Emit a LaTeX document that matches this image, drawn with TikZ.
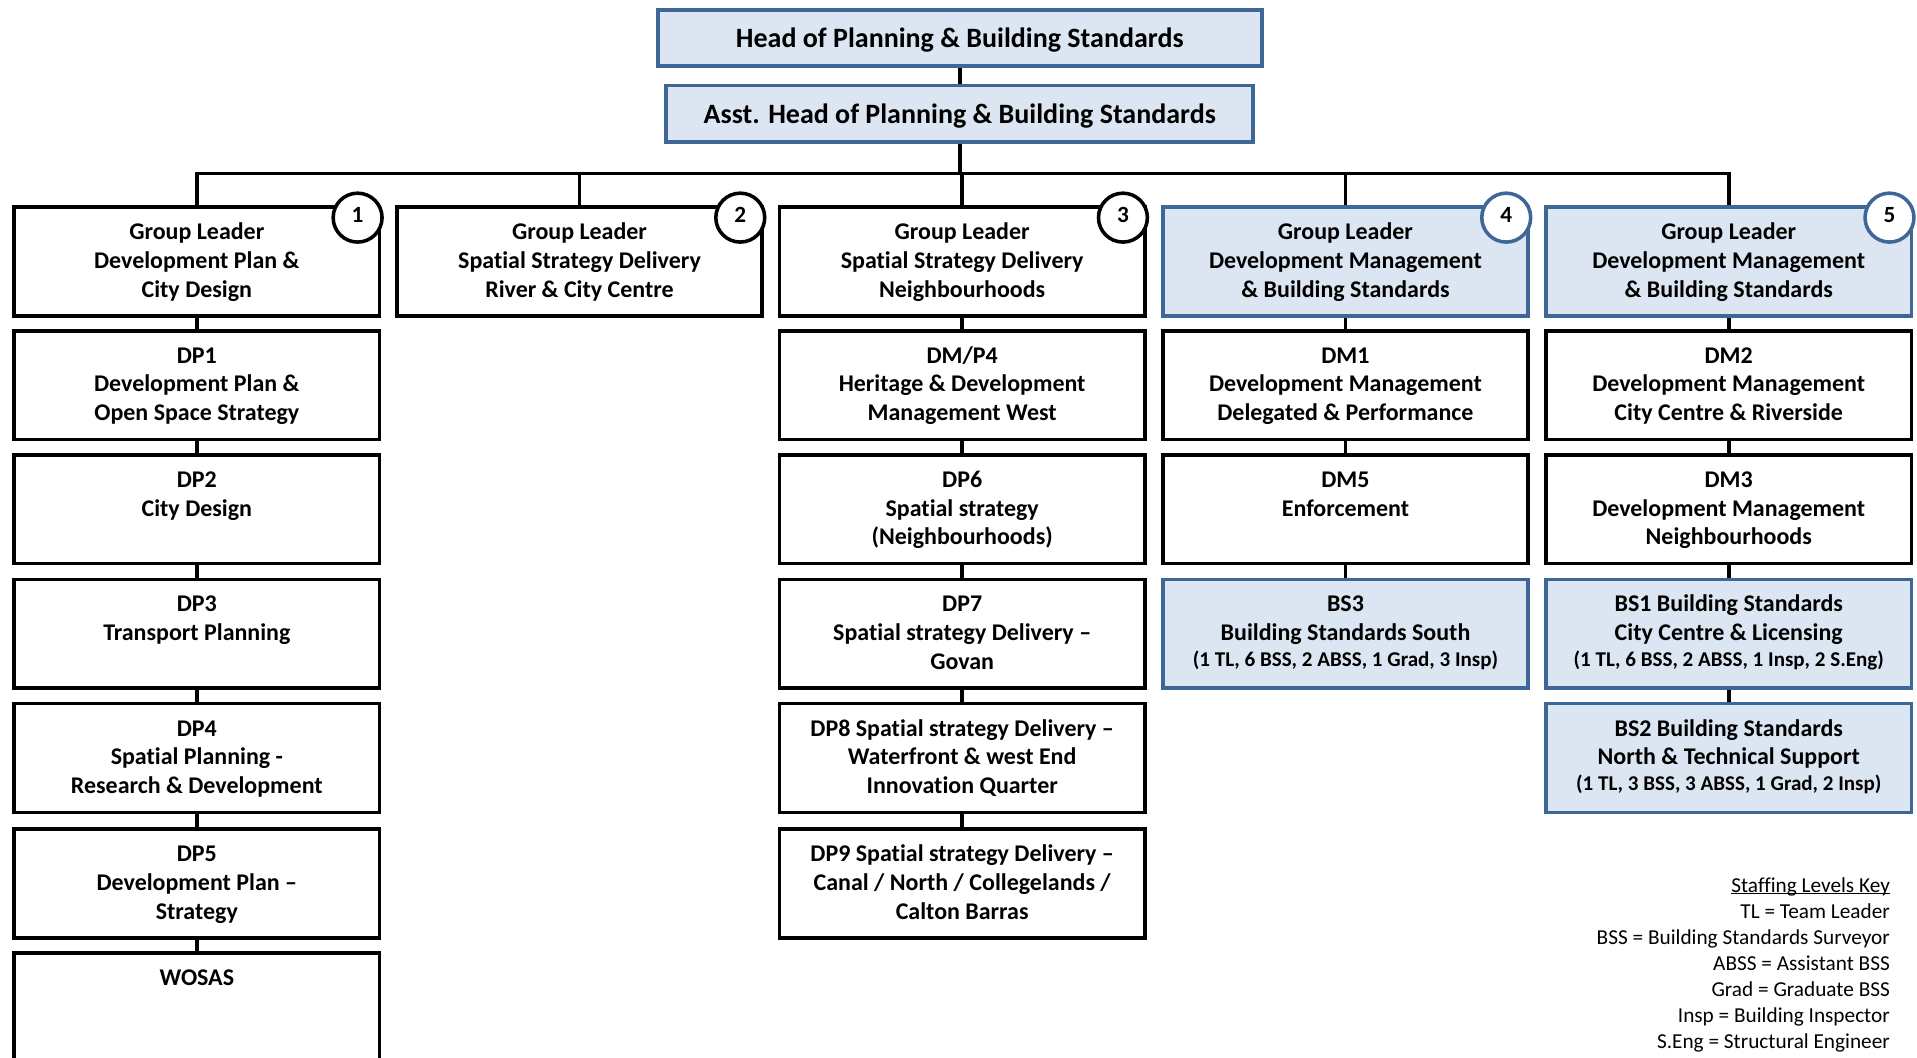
\documentclass[tikz,border=0pt]{standalone}
\usepackage{fontspec}
\setmainfont{Carlito}[Ligatures={TeX,NoCommon}]
\definecolor{bfill}{HTML}{DCE6F2}
\definecolor{bline}{HTML}{3E6697}
\pgfdeclarelayer{background}
\pgfsetlayers{background,main}
\tikzset{
  orgbox/.style={rectangle, draw=black, line width=3pt, fill=white, minimum width=299pt, minimum height=89pt, inner sep=0pt, anchor=north},
  bluebox/.style={orgbox, draw=bline, fill=bfill},
  conn/.style={draw=black, line width=2.9pt},
  badge/.style={circle, draw=black, fill=white, line width=2.9pt, minimum size=40pt, inner sep=0pt, font=\fontsize{19}{22}\selectfont\bfseries},
  bluebadge/.style={badge, draw=bline},
  boxtext/.style={anchor=base, inner sep=0pt, font=\fontsize{19.6}{23.6}\selectfont\bfseries},
  toptext/.style={anchor=base, inner sep=0pt, font=\fontsize{22.9}{27}\selectfont\bfseries},
  keytext/.style={anchor=base east, inner sep=0pt, font=\fontsize{17.4}{21.3}\selectfont},
}
\newcommand\stafffont{\fontsize{17.2}{20}\selectfont}
\newcommand\obox[5]{%
  \node[#2] (#1) at (#3,#4) {};
  \node[boxtext] (#1t) at (#3,#4+28) {\parbox[t]{296pt}{\centering #5}};
}
\begin{document}
\begin{tikzpicture}[x=1pt,y=-1pt]
\useasboundingbox (0,0) rectangle (1568,865);
\clip (0,0) rectangle (1568,865);

% top
\node[bluebox, anchor=center, minimum width=494pt, minimum height=46pt] (head) at (785,31) {};
\node[toptext] (headt) at (785,39) {Head of Planning \& Building Standards};
\node[bluebox, anchor=center, minimum width=480pt, minimum height=46pt] (asst) at (785,93) {};
\node[toptext] (asstt) at (785,101) {Asst. Head of Planning \& Building Standards};
\coordinate (bus) at (785,142);

% group leaders
\obox{gl1}{orgbox}{161}{168}{Group Leader\\Development Plan \&\\City Design}
\obox{gl2}{orgbox}{474}{168}{Group Leader\\Spatial Strategy Delivery\\River \& City Centre}
\obox{gl3}{orgbox}{787}{168}{Group Leader\\Spatial Strategy Delivery\\Neighbourhoods}
\obox{gl4}{bluebox}{1100.5}{168}{Group Leader\\Development Management\\\& Building Standards}
\obox{gl5}{bluebox}{1414}{168}{Group Leader\\Development Management\\\& Building Standards}

% column 1
\obox{dp1}{orgbox}{161}{269}{DP1\\Development Plan \&\\Open Space Strategy}
\obox{dp2}{orgbox}{161}{370.5}{DP2\\City Design}
\obox{dp3}{orgbox}{161}{472.5}{DP3\\Transport Planning}
\obox{dp4}{orgbox}{161}{574}{DP4\\Spatial Planning -\\Research \& Development}
\obox{dp5}{orgbox}{161}{676.5}{DP5\\Development Plan –\\Strategy}
\obox{wosas}{orgbox, minimum height=150pt}{161}{778}{WOSAS}

% column 3
\obox{dmp4}{orgbox}{787}{269}{DM/P4\\Heritage \& Development\\Management West}
\obox{dp6}{orgbox}{787}{370.5}{DP6\\Spatial strategy\\(Neighbourhoods)}
\obox{dp7}{orgbox}{787}{472.5}{DP7\\Spatial strategy Delivery –\\Govan}
\obox{dp8}{orgbox}{787}{574}{DP8 Spatial strategy Delivery –\\Waterfront \& west End\\Innovation Quarter}
\obox{dp9}{orgbox}{787}{676.5}{DP9 Spatial strategy Delivery –\\Canal / North / Collegelands /\\Calton Barras}

% column 4
\obox{dm1}{orgbox}{1100.5}{269}{DM1\\Development Management\\Delegated \& Performance}
\obox{dm5}{orgbox}{1100.5}{370.5}{DM5\\Enforcement}
\obox{bs3}{bluebox}{1100.5}{472.5}{BS3\\Building Standards South\\[-2.5pt]{\stafffont (1 TL, 6 BSS, 2 ABSS, 1 Grad, 3 Insp)}}

% column 5
\obox{dm2}{orgbox}{1414}{269}{DM2\\Development Management\\City Centre \& Riverside}
\obox{dm3}{orgbox}{1414}{370.5}{DM3\\Development Management\\Neighbourhoods}
\obox{bs1}{bluebox}{1414}{472.5}{BS1 Building Standards\\City Centre \& Licensing\\[-2.5pt]{\stafffont (1 TL, 6 BSS, 2 ABSS, 1 Insp, 2 S.Eng)}}
\obox{bs2}{bluebox}{1414}{574}{BS2 Building Standards\\North \& Technical Support\\[-2.5pt]{\stafffont (1 TL, 3 BSS, 3 ABSS, 1 Grad, 2 Insp)}}

% badges
\node[badge] (n1) at (292.5,178) {\raisebox{4pt}{1}};
\node[badge] (n2) at (605.5,178) {\raisebox{4pt}{2}};
\node[badge] (n3) at (918.5,178) {\raisebox{4pt}{3}};
\node[bluebadge] (n4) at (1232,178) {\raisebox{4pt}{4}};
\node[bluebadge] (n5) at (1545.5,178) {\raisebox{4pt}{5}};

% key
\node[keytext] (key) at (1546,729.6) {\parbox[t]{400pt}{\raggedleft
\underline{\smash{Staffing Levels Key}}\\
TL = Team Leader\\
BSS = Building Standards Surveyor\\
ABSS = Assistant BSS\\
Grad = Graduate BSS\\
Insp = Building Inspector\\
S.Eng = Structural Engineer}};

% connectors
\begin{pgfonlayer}{background}
\draw[conn] (head.south) -- (asst.north);
\draw[conn] (asst.south) -- (asst.south |- bus);
\draw[conn, line join=miter] (gl1.north) -- (gl1.north |- bus) -- (gl5.north |- bus) -- (gl5.north);
\foreach \g in {gl2,gl3,gl4} \draw[conn] (\g.north) -- (\g.north |- bus);
\foreach \a/\b in {gl1/dp1, dp1/dp2, dp2/dp3, dp3/dp4, dp4/dp5, dp5/wosas,
                   gl3/dmp4, dmp4/dp6, dp6/dp7, dp7/dp8, dp8/dp9,
                   gl4/dm1, dm1/dm5, dm5/bs3,
                   gl5/dm2, dm2/dm3, dm3/bs1, bs1/bs2}
  \draw[conn] (\a.south) -- (\b.north);
\end{pgfonlayer}
\end{tikzpicture}
\end{document}
